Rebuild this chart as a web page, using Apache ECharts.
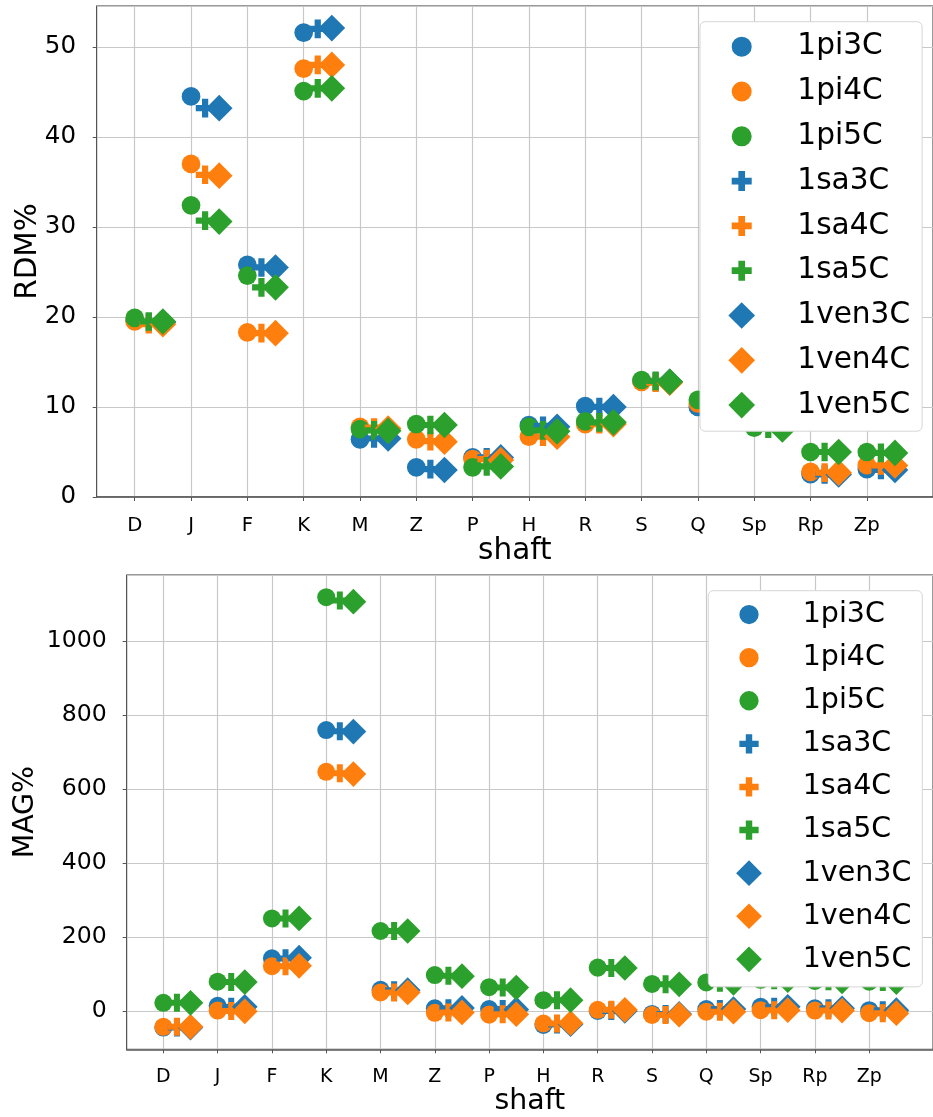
<!DOCTYPE html>
<html>
<head>
<meta charset="utf-8">
<script src="https://cdn.jsdelivr.net/npm/echarts@6/dist/echarts.min.js"></script>
<style>
  html, body { margin: 0; padding: 0; background: #ffffff; }
  #chart { width: 933px; height: 1117px; }
</style>
</head>
<body>
<div id="chart"></div>
<script>
// Shafts along the x axis
const shafts = ['D', 'J', 'F', 'K', 'M', 'Z', 'P', 'H', 'R', 'S', 'Q', 'Sp', 'Rp', 'Zp'];
const seriesNames = ['1pi3C', '1pi4C', '1pi5C', '1sa3C', '1sa4C', '1sa5C', '1ven3C', '1ven4C', '1ven5C'];

// RDM% per shaft
const rdmPi3C  = [19.6, 44.5, 25.8, 51.6, 6.4, 3.3, 4.4, 8.0, 10.1, 12.9, 10.0, 9.6, 2.55, 3.1];
const rdmPi4C  = [19.5, 37.0, 18.3, 47.6, 7.8, 6.4, 4.2, 6.7, 8.1, 12.8, 10.4, 9.2, 2.8, 3.55];
const rdmPi5C  = [19.9, 32.4, 24.6, 45.1, 7.55, 8.1, 3.3, 7.8, 8.4, 13.0, 10.8, 7.7, 5.0, 5.0];
const rdmSa3C  = [19.4, 43.2, 25.5, 52.0, 6.5, 3.1, 4.4, 7.9, 10.0, 12.8, 9.9, 9.5, 2.5, 3.0];
const rdmSa4C  = [19.2, 35.8, 18.2, 48.0, 7.7, 6.2, 4.2, 6.7, 8.1, 12.7, 10.3, 9.1, 2.7, 3.5];
const rdmSa5C  = [19.5, 30.7, 23.3, 45.4, 7.4, 8.0, 3.4, 7.4, 8.3, 12.9, 10.7, 7.6, 5.0, 4.9];
const rdmVen3C = [19.4, 43.2, 25.5, 52.1, 6.5, 3.0, 4.4, 7.8, 10.0, 12.8, 9.9, 9.5, 2.5, 3.0];
const rdmVen4C = [19.2, 35.7, 18.2, 48.0, 7.6, 6.15, 4.1, 6.7, 8.1, 12.7, 10.3, 9.1, 2.7, 3.5];
const rdmVen5C = [19.5, 30.6, 23.3, 45.4, 7.35, 8.0, 3.4, 7.3, 8.3, 12.8, 10.7, 7.5, 5.0, 4.9];

// MAG% per shaft
const magPi3C  = [-44, 15, 143, 760, 58, 8, 6, -37, 1, -7, 6, 12, 8, 3];
const magPi4C  = [-42, 2, 122, 647, 51, -4, -9, -33, 4, -10, -1, 3, 2, -5];
const magPi5C  = [23, 80, 251, 1119, 217, 98, 65, 30, 118, 74, 78, 85, 82, 80];
const magSa3C  = [-44, 12, 143, 757, 57, 8, 6, -36, 1, -7, 6, 12, 8, 3];
const magSa4C  = [-42, 1, 122, 643, 51, -3, -8, -33, 4, -10, -1, 3, 2, -5];
const magSa5C  = [23, 79, 251, 1110, 217, 96, 64, 30, 117, 73, 77, 84, 81, 79];
const magVen3C = [-44, 12, 145, 756, 57, 9, 5, -35, 1, -7, 6, 12, 8, 3];
const magVen4C = [-42, 0, 123, 641, 51, -3, -8, -32, 4, -9, -1, 3, 2, -5];
const magVen5C = [23, 79, 251, 1107, 217, 95, 64, 30, 117, 73, 77, 84, 81, 79];

const rdmValues = [rdmPi3C, rdmPi4C, rdmPi5C, rdmSa3C, rdmSa4C, rdmSa5C, rdmVen3C, rdmVen4C, rdmVen5C];
const magValues = [magPi3C, magPi4C, magPi5C, magSa3C, magSa4C, magSa5C, magVen3C, magVen4C, magVen5C];

const FONT = 'DejaVu Sans';
const COLORS = ['#1f77b4', '#ff7f0e', '#2ca02c'];
const PLUS = 'path://M2,0H4V2H6V4H4V6H2V4H0V2H2Z';
// legend icons in a 40x40 box (corner specks fix the box so shapes keep their relative size)
const LEG_CIRCLE = 'path://M0,0h0.01ZM40,40h-0.01ZM5,20a15,15 0 1,0 30,0a15,15 0 1,0 -30,0Z';
const LEG_PLUS = 'path://M0,0h0.01ZM40,40h-0.01ZM15,5H25V15H35V25H25V35H15V25H5V15H15Z';
const methods = [
  { offset: 0, symbol: 'circle', size: 18.7, legendIcon: LEG_CIRCLE },
  { offset: 0.25, symbol: PLUS, size: 18.7, legendIcon: LEG_PLUS },
  { offset: 0.5, symbol: 'diamond', size: 26.7, legendIcon: 'diamond' }
];
const idx = shafts.map((s, i) => i);

function buildPanel(k, values, cfg) {
  const s = cfg.scale;
  const grid = { left: cfg.left, top: cfg.top, width: cfg.width, height: cfg.height,
    show: true, borderColor: '#333333', borderWidth: 1, backgroundColor: 'transparent' };
  const xAxis = {
    type: 'value', gridIndex: k, min: -0.675, max: 14.175,
    name: 'shaft', nameLocation: 'middle', nameGap: cfg.xNameGap, nameMoveOverlap: false,
    nameTextStyle: { fontFamily: FONT, fontSize: 29.5 * s, lineHeight: 29.5 * s, color: '#000' },
    axisLine: { show: true, onZero: false, lineStyle: { color: '#555555', width: 1.6 } },
    axisTick: { show: true, customValues: idx, length: 4, lineStyle: { color: '#555555' } },
    axisLabel: { customValues: idx, formatter: v => shafts[Math.round(v)] || '',
      fontFamily: FONT, fontSize: 19.7 * s, lineHeight: 19.7 * s, color: '#000', margin: 19 * s },
    splitLine: { show: true, lineStyle: { color: '#c8c8c8', width: 1.2 } }
  };
  const yAxis = {
    type: 'value', gridIndex: k, min: cfg.yMin, max: cfg.yMax, splitNumber: cfg.splitNumber,
    name: cfg.yName, nameLocation: 'middle', nameGap: cfg.yNameGap, nameMoveOverlap: false,
    nameTextStyle: { fontFamily: FONT, fontSize: 29.5 * s, lineHeight: 29.5 * s, color: '#000' },
    axisLine: { show: true, onZero: false, lineStyle: { color: '#555555', width: 1 } },
    axisTick: { show: true, length: 4, lineStyle: { color: '#555555' } },
    axisLabel: { fontFamily: FONT, fontSize: 24.5 * s, color: '#000', margin: 20.7 * s,
      formatter: v => String(v),
      showMinLabel: cfg.showMinLabel, showMaxLabel: false },
    splitLine: { show: true, lineStyle: { color: '#c8c8c8', width: 1.2 } }
  };
  const iconBox = 26.7 * s;
  const legend = {
    orient: 'vertical', left: cfg.legLeft, top: cfg.legTop,
    itemWidth: iconBox, itemHeight: iconBox, itemGap: cfg.legGap,
    padding: cfg.legPad,
    backgroundColor: '#ffffff', borderColor: '#d6d6d6',
    borderWidth: 1, borderRadius: 5, selectedMode: false,
    textStyle: { fontFamily: FONT, fontSize: cfg.legFont, lineHeight: cfg.legFont, color: '#000',
      padding: [0, 0, 0, cfg.legTextPad] },
    data: seriesNames.map((n, j) => ({ name: n, icon: methods[Math.floor(j / 3)].legendIcon }))
  };
  const series = seriesNames.map((n, j) => {
    const m = methods[Math.floor(j / 3)];
    return {
      type: 'scatter', name: n, xAxisIndex: k, yAxisIndex: k,
      symbol: m.symbol, symbolSize: m.size * s,
      itemStyle: { color: COLORS[j % 3], opacity: 1 },
      emphasis: { disabled: true },
      data: values[j].map((v, i) => [i + m.offset, v])
    };
  });
  return { grid, xAxis, yAxis, legend, series };
}

const rdmPanel = buildPanel(0, rdmValues, {
  scale: 1, left: 96.7, top: 6, width: 841.5, height: 491,
  yMin: 0, yMax: 54.55, splitNumber: 5, showMinLabel: true,
  yName: 'RDM%', yNameGap: 53.8, xNameGap: 39.7,
  legLeft: 700, legTop: 21.7, legGap: 14.8, legFont: 29.6,
  legPad: [10, 12, 11.1, 28.35], legTextPad: 37.25
});
const magPanel = buildPanel(1, magValues, {
  scale: 0.963, left: 126.7, top: 575, width: 810.8, height: 474.3,
  yMin: -102.7, yMax: 1179, splitNumber: 6, showMinLabel: false,
  yName: 'MAG%', yNameGap: 87.3, xNameGap: 38.2,
  legLeft: 708.3, legTop: 590.7, legGap: 14.1, legFont: 28.5,
  legPad: [9.35, 11, 13, 27.85], legTextPad: 35.85
});

const chart = echarts.init(document.getElementById('chart'), null, { renderer: 'canvas' });
chart.setOption({
  animation: false,
  backgroundColor: '#ffffff',
  grid: [rdmPanel.grid, magPanel.grid],
  xAxis: [rdmPanel.xAxis, magPanel.xAxis],
  yAxis: [rdmPanel.yAxis, magPanel.yAxis],
  legend: [rdmPanel.legend, magPanel.legend],
  series: rdmPanel.series.concat(magPanel.series)
});
</script>
</body>
</html>
